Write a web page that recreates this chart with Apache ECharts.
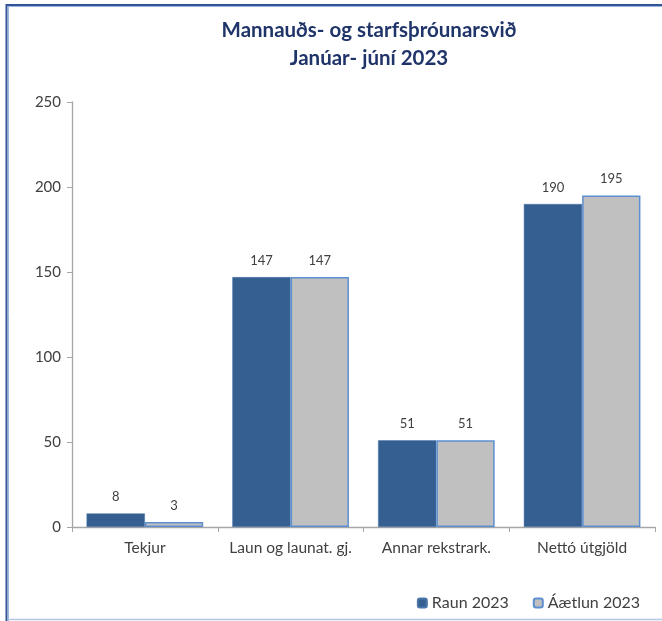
<!DOCTYPE html>
<html><head><meta charset="utf-8">
<script src="https://cdn.jsdelivr.net/npm/echarts@6/dist/echarts.min.js"></script>
<style>html,body{margin:0;padding:0;background:#fff}#c{width:662px;height:621px}</style>
</head><body><div id="c"></div>
<script>
const categories = ["Tekjur", "Laun og launat. gj.", "Annar rekstrark.", "Nettó útgjöld"];
const raun2023 = [8, 147, 51, 190];
const aaetlun2023 = [3, 147, 51, 195];
const seriesNames = ["Raun 2023", "Áætlun 2023"];
const titleLines = ["Mannauðs- og starfsþróunarsvið", "Janúar- júní 2023"];

const chart = echarts.init(document.getElementById('c'));
const font = 'Lato, "Open Sans", sans-serif';
chart.setOption({
  animation: false,
  backgroundColor: '#fff',
  title: {
    text: titleLines.join('\n'),
    left: 364, top: 11, textAlign: 'center',
    textStyle: { fontFamily: font, fontWeight: 'bold', fontSize: 20.5, color: '#1f3468', lineHeight: 28 }
  },
  grid: { left: 72, right: 7, top: 102, bottom: 94, containLabel: false },
  legend: {
    right: 17, bottom: 5, itemWidth: 9, itemHeight: 9, itemGap: 24,
    textStyle: { fontFamily: font, fontSize: 16, color: '#404040' },
    data: seriesNames
  },
  xAxis: {
    type: 'category', data: categories,
    axisLine: { lineStyle: { color: '#a6a6a6', width: 1.3 } },
    axisTick: { show: true, length: 5, lineStyle: { color: '#a6a6a6' } },
    axisLabel: { interval: 0, fontFamily: font, fontSize: 15.5, color: '#404040', margin: 13 }
  },
  yAxis: {
    type: 'value', min: 0, max: 250, interval: 50,
    splitLine: { show: false },
    axisLine: { show: true, lineStyle: { color: '#a6a6a6', width: 1.3 } },
    axisTick: { show: true, length: 5, lineStyle: { color: '#a6a6a6' } },
    axisLabel: { fontFamily: font, fontSize: 15, color: '#404040', margin: 11 }
  },
  series: [
    {
      name: seriesNames[0], type: 'bar', data: raun2023,
      barGap: '0%', barCategoryGap: '20%',
      itemStyle: { color: '#355f91', borderColor: '#4a76aa', borderWidth: 0.5 },
      label: { show: true, position: 'top', distance: 10, fontFamily: font, fontSize: 13, color: '#404040' }
    },
    {
      name: seriesNames[1], type: 'bar', data: aaetlun2023,
      itemStyle: { color: '#c0c0c0', borderColor: '#5b8fd0', borderWidth: 1.5 },
      label: { show: true, position: 'top', distance: 10, fontFamily: font, fontSize: 13, color: '#404040' }
    }
  ],
  graphic: [
    { type: 'line', shape: { x1: 6.5, y1: 4, x2: 6.5, y2: 621 }, style: { stroke: '#2f5597', lineWidth: 2 } },
    { type: 'line', shape: { x1: 8.5, y1: 6, x2: 8.5, y2: 621 }, style: { stroke: '#9db6df', lineWidth: 1 } },
    { type: 'line', shape: { x1: 6, y1: 5, x2: 662, y2: 5 }, style: { stroke: '#2f5597', lineWidth: 2 } },
    { type: 'line', shape: { x1: 8, y1: 6.5, x2: 662, y2: 6.5 }, style: { stroke: '#9db6df', lineWidth: 1 } },
    { type: 'line', shape: { x1: 8, y1: 619.5, x2: 662, y2: 619.5 }, style: { stroke: '#b4c7e7', lineWidth: 1.5 } }
  ]
});
</script></body></html>
